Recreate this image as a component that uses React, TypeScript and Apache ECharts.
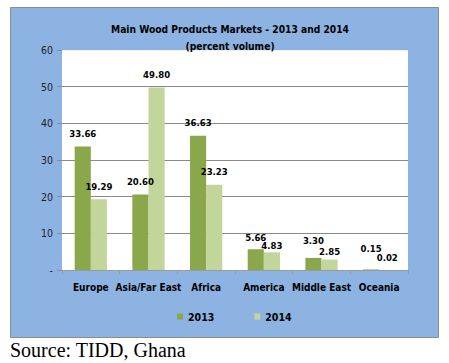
import React, { useEffect, useRef } from "react";
import * as echarts from "echarts";

const categories = ["Europe", "Asia/Far East", "Africa", "America", "Middle East", "Oceania"];
const values2013 = [33.66, 20.6, 36.63, 5.66, 3.3, 0.15];
const values2014 = [19.29, 49.8, 23.23, 4.83, 2.85, 0.02];
const seriesNames = ["2013", "2014"];
const titleText = "Main Wood Products Markets - 2013 and 2014";
const subtitleText = "(percent volume)";
const sourceText = "Source: TIDD, Ghana";

// label gaps above bars (styling, not data)
const labelGap2013 = [8, 8, 8, 7, 12, 16];
const labelGap2014 = [8, 8, 8, 2, 3, 7];

const FONT = "'DejaVu Sans Condensed', 'Liberation Sans', sans-serif";

export default function App() {
  const ref = useRef<HTMLDivElement>(null);
  useEffect(() => {
    document.body.style.margin = "0";
    const chart = echarts.init(ref.current!, undefined, { renderer: "svg" });
    const baseLabel = {
      show: true,
      position: "top" as const,
      fontFamily: FONT,
      fontWeight: "bold" as const,
      fontSize: 9.5,
      color: "#000",
      formatter: (p: any) => Number(p.value).toFixed(2),
    };
    const mk = (vals: number[], gaps: number[]) =>
      vals.map((v, i) => ({ value: v, label: { ...baseLabel, distance: gaps[i] } }));
    chart.setOption({
      animation: false,
      backgroundColor: "#ffffff",
      graphic: [
        {
          type: "rect",
          z: -10,
          silent: true,
          shape: { x: 10.5, y: 7.5, width: 428, height: 330 },
          style: { fill: "#8db3e2", stroke: "#8c8c8c", lineWidth: 1 },
        },
        {
          type: "text",
          x: 10,
          y: 350,
          style: {
            text: sourceText,
            font: "20px 'Liberation Serif', 'Times New Roman', serif",
            fill: "#000",
            verticalAlign: "middle",
          },
        },
      ],
      title: {
        text: titleText,
        subtext: subtitleText,
        left: 225,
        textAlign: "center",
        top: 18,
        itemGap: 4,
        textStyle: { fontFamily: FONT, fontWeight: "bold", fontSize: 10.2, color: "#000", lineHeight: 13 },
        subtextStyle: { fontFamily: FONT, fontWeight: "bold", fontSize: 10.2, color: "#000", lineHeight: 13 },
      },
      legend: {
        data: seriesNames,
        top: 306,
        left: 172,
        itemWidth: 6,
        itemHeight: 6,
        itemGap: 40,
        icon: "rect",
        textStyle: { fontFamily: FONT, fontWeight: "bold", fontSize: 10.5, color: "#000" },
      },
      grid: {
        left: 62,
        right: 41,
        top: 50,
        bottom: 93,
        show: true,
        backgroundColor: "#ffffff",
        borderWidth: 0,
      },
      xAxis: {
        type: "category",
        data: categories,
        axisLine: { lineStyle: { color: "#9a9a9a" } },
        axisTick: { show: true, length: 4, lineStyle: { color: "#9a9a9a" } },
        axisLabel: { fontFamily: FONT, fontWeight: "bold", fontSize: 10, color: "#000", margin: 12, interval: 0 },
      },
      yAxis: {
        type: "value",
        min: 0,
        max: 60,
        interval: 10,
        axisLine: { show: false },
        axisTick: { show: true, length: 5, lineStyle: { color: "#8a8a8a" } },
        axisLabel: {
          fontFamily: FONT,
          fontSize: 10.5,
          color: "#222",
          margin: 9,
          formatter: (v: number) => (v === 0 ? "-" : String(v)),
        },
        splitLine: {
          lineStyle: {
            color: ["#8a8a8a", "#8a8a8a", "#8a8a8a", "#8a8a8a", "#8a8a8a", "#8a8a8a", "#f2f0e0"],
          },
        },
      },
      series: [
        {
          name: seriesNames[0],
          type: "bar",
          data: mk(values2013, labelGap2013),
          barWidth: "28%",
          barGap: "0%",
          itemStyle: { color: "#8aa84b" },
        },
        {
          name: seriesNames[1],
          type: "bar",
          data: mk(values2014, labelGap2014),
          barWidth: "28%",
          barGap: "0%",
          itemStyle: { color: "#c2d69b" },
        },
      ],
    });
    return () => chart.dispose();
  }, []);
  return <div ref={ref} style={{ width: 449, height: 363 }} />;
}
